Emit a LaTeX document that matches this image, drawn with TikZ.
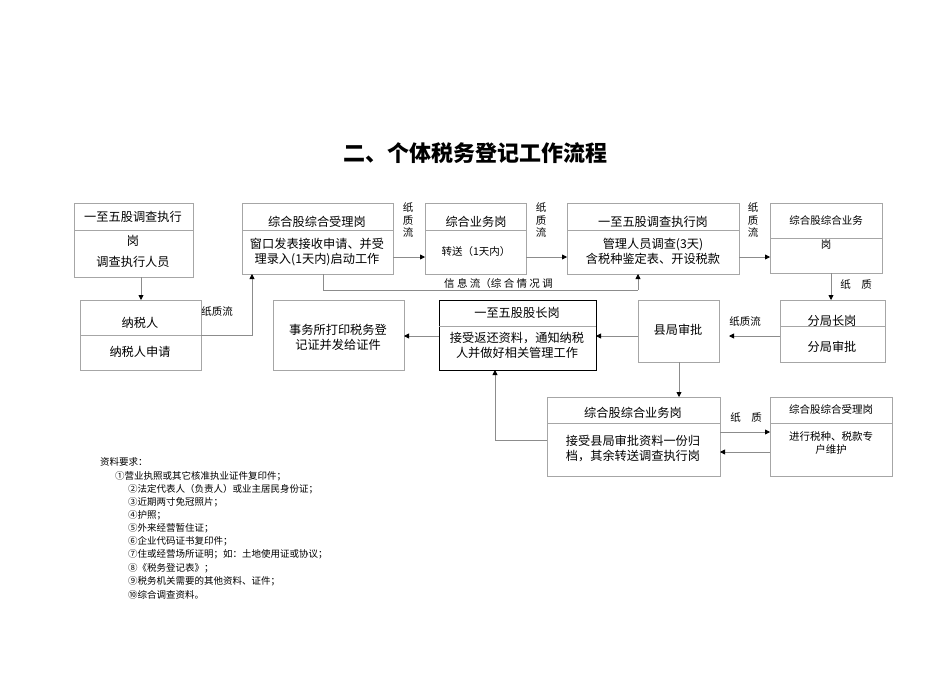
\documentclass[tikz,border=0pt]{standalone}
\usepackage{fontspec}
\setmainfont{Noto Sans CJK SC}
\usetikzlibrary{arrows.meta}
\begin{document}
\begin{tikzpicture}[x=1pt,y=-1pt,
  bx/.style={draw=black!35,line width=0.8pt},
  thk/.style={draw=black,line width=1.3pt},
  ln/.style={draw=black!45,line width=0.8pt},
  ar/.style={ln,-{Triangle[length=5pt,width=5pt,black]}},
  t/.style={font=\fontsize{12.2}{15}\selectfont,align=center,inner sep=0pt},
  s/.style={font=\fontsize{10.5}{12.5}\selectfont,align=center,inner sep=0pt},
  n/.style={font=\fontsize{9.5}{11}\selectfont,anchor=west,inner sep=0pt}]
\useasboundingbox (0,0) rectangle (950,672);
\node[font=\fontsize{22}{26}\selectfont\bfseries] (title) at (475,153) {二、个体税务登记工作流程};
% boxes
\node[minimum width=119,minimum height=74,anchor=north west,bx] (A) at (74,203) {}; \draw[bx] (74,230)--(193,230);
\node[t] at (133,217) {一至五股调查执行};
\node[t] at (133,241) {岗};
\node[t] at (133,262) {调查执行人员};
\node[minimum width=121,minimum height=70,anchor=north west,bx] (B) at (80,300) {}; \draw[bx] (80,335)--(201,335);
\node[t] at (140,323) {纳税人}; \node[t] at (140,352) {纳税人申请};
\node[minimum width=151,minimum height=71,anchor=north west,bx] (C) at (242,203) {}; \draw[bx] (242,230)--(393,230);
\node[t] at (317,222) {综合股综合受理岗};
\node[t] at (317,252) {窗口发表接收申请、并受\\理录入(1天内)启动工作};
\node[minimum width=101,minimum height=71,anchor=north west,bx] (D) at (425,203) {}; \draw[bx] (425,230)--(526,230);
\node[t] at (476,222) {综合业务岗}; \node[s] at (476,252) {转送（1天内）};
\node[minimum width=172,minimum height=71,anchor=north west,bx] (E) at (567,203) {}; \draw[bx] (567,230)--(739,230);
\node[t] at (653,222) {一至五股调查执行岗};
\node[t] at (653,251) {管理人员调查(3天)\\含税种鉴定表、开设税款};
\node[minimum width=112,minimum height=70,anchor=north west,bx] (F) at (770,203) {}; \draw[bx] (770,238)--(882,238);
\node[s] at (826,220) {综合股综合业务}; \node[s] at (826,244) {岗};
\node[minimum width=105,minimum height=62,anchor=north west,bx] (G) at (780,300) {}; \draw[bx] (780,326)--(885,326);
\node[t] at (832,321) {分局长岗}; \node[t] at (832,347) {分局审批};
\node[minimum width=81,minimum height=62,anchor=north west,bx] (H) at (638,300) {};
\node[t] at (678,330) {县局审批};
\node[minimum width=157,minimum height=70,anchor=north west,thk] (I) at (439,300) {}; \draw[bx] (439,326)--(596,326);
\node[t] at (517,313) {一至五股股长岗};
\node[t] at (517,345) {接受返还资料，通知纳税\\人并做好相关管理工作};
\node[minimum width=131,minimum height=70,anchor=north west,bx] (J) at (273,300) {};
\node[t] at (338,337) {事务所打印税务登\\记证并发给证件};
\node[minimum width=173,minimum height=79,anchor=north west,bx] (K) at (547,397) {}; \draw[bx] (547,423)--(720,423);
\node[t] at (633,413) {综合股综合业务岗};
\node[t] at (633,448) {接受县局审批资料一份归\\档，其余转送调查执行岗};
\node[minimum width=122,minimum height=79,anchor=north west,bx] (L) at (770,397) {}; \draw[bx] (770,423)--(892,423);
\node[s] at (831,409) {综合股综合受理岗};
\node[s] at (831,443) {进行税种、税款专\\户维护};
% connectors
\coordinate (a1) at (141,277); \coordinate (b1) at (141,300);
\draw[ar] (a1) -- (b1);
\draw[ar] (201,335) -- (252,335) -- (252,274);
\node[s] at (217,312) {纸质流};
\draw[ar] (393,257) -- (425,257); \node[s] at (408,220) {纸\\质\\流};
\draw[ar] (526,257) -- (567,257); \node[s] at (541,220) {纸\\质\\流};
\draw[ar] (739,257) -- (770,257); \node[s] at (753,220) {纸\\质\\流};
\draw[ln] (323,274) -- (323,290) -- (638,290); \draw[ar] (638,290) -- (638,274);
\node[s,anchor=west] at (444,284) {信 息 流（综 合 情 况 调};
\draw[ar] (831,273) -- (831,300); \node[s] at (856,285) {纸\quad 质};
\draw[ar] (780,336) -- (729,336); \node[s] at (745,322) {纸质流};
\draw[ar] (638,336) -- (596,336);
\draw[ar] (439,336) -- (404,336);
\draw[ar] (679,362) -- (679,397);
\draw[ln] (547,440) -- (495,440); \draw[ar] (495,440) -- (495,370);
\draw[ar] (720,432) -- (770,432); \node[s] at (746,418) {纸\quad 质};
\draw[ar] (770,452) -- (720,452);
% notes
\node[n] at (100,462) {资料要求：};
\node[n] at (115,476) {①营业执照或其它核准执业证件复印件；};
\node[n] at (128,489) {②法定代表人（负责人）或业主居民身份证；};
\node[n] at (128,502) {③近期两寸免冠照片；};
\node[n] at (128,515) {④护照；};
\node[n] at (128,528) {⑤外来经营暂住证；};
\node[n] at (128,541) {⑥企业代码证书复印件；};
\node[n] at (128,554) {⑦住或经营场所证明；如：土地使用证或协议；};
\node[n] at (128,568) {⑧《税务登记表》；};
\node[n] at (128,581) {⑨税务机关需要的其他资料、证件；};
\node[n] at (128,595) {⑩综合调查资料。};
\end{tikzpicture}
\end{document}
